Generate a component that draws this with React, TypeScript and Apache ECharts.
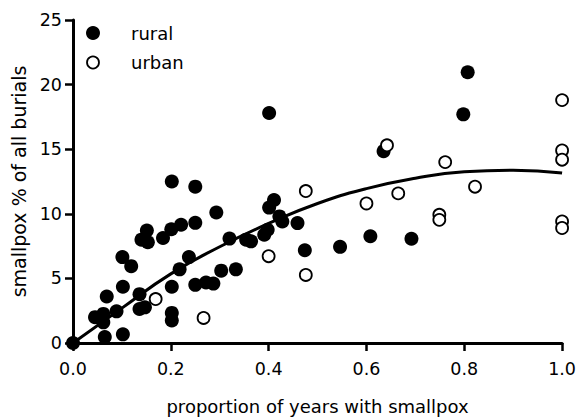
import React, { useEffect, useRef } from "react";
import * as echarts from "echarts";

const xTicks = [0, 0.2, 0.4, 0.6, 0.8, 1.0];
const yTicks = [0, 5, 10, 15, 20, 25];

const rural: [number, number][] = [
  [0, 0], [0.045, 2.0], [0.062, 2.25], [0.062, 1.6], [0.065, 0.46], [0.069, 3.6],
  [0.089, 2.45], [0.102, 4.35], [0.102, 0.67], [0.101, 6.65], [0.119, 5.95],
  [0.136, 3.78], [0.136, 2.63], [0.147, 2.76], [0.14, 8.0], [0.151, 8.7], [0.153, 7.8],
  [0.184, 8.13], [0.202, 12.5], [0.201, 8.8], [0.221, 9.15], [0.202, 4.35], [0.202, 2.33],
  [0.202, 1.74], [0.218, 5.7], [0.237, 6.65], [0.25, 12.1], [0.25, 9.3], [0.25, 4.5],
  [0.272, 4.68], [0.287, 4.6], [0.293, 10.1], [0.303, 5.6], [0.32, 8.08], [0.333, 5.7],
  [0.354, 8.0], [0.364, 7.87], [0.391, 8.38], [0.398, 8.77], [0.401, 10.48], [0.411, 11.07],
  [0.422, 9.8], [0.428, 9.4], [0.459, 9.28], [0.474, 7.18], [0.546, 7.44], [0.608, 8.26],
  [0.635, 14.85], [0.692, 8.07], [0.798, 17.7], [0.807, 20.96], [0.401, 17.8],
];

const urban: [number, number][] = [
  [0.169, 3.4], [0.267, 1.94], [0.4, 6.72], [0.476, 11.76], [0.476, 5.27], [0.6, 10.8],
  [0.642, 15.3], [0.665, 11.58], [0.749, 9.92], [0.749, 9.53], [0.761, 14.0], [0.822, 12.1],
  [1.0, 18.8], [1.0, 14.9], [1.0, 14.19], [1.0, 9.41], [1.0, 8.9],
];

const fitCurve: [number, number][] = [
  [0, 0], [0.1, 2.7], [0.2, 5.35], [0.3, 7.45], [0.4, 9.25], [0.5, 10.8],
  [0.6, 11.95], [0.7, 12.75], [0.8, 13.25], [0.9, 13.38], [1.0, 13.15],
];

const legendNames = ["rural", "urban"];

const FONT = "DejaVu Sans";

export default function App() {
  const ref = useRef<HTMLDivElement>(null);
  useEffect(() => {
    if (!ref.current) return;
    const chart = echarts.init(ref.current, undefined, { renderer: "svg" });
    chart.setOption({
      animation: false,
      backgroundColor: "#ffffff",
      grid: { left: 73, right: 15, top: 20, bottom: 74 },
      xAxis: {
        type: "value",
        min: xTicks[0],
        max: xTicks[xTicks.length - 1],
        interval: 0.2,
        name: "proportion of years with smallpox",
        nameLocation: "middle",
        nameGap: 54,
        nameTextStyle: { fontFamily: FONT, fontSize: 18, color: "#000" },
        axisLine: { show: true, lineStyle: { color: "#000", width: 3 } },
        axisTick: { show: true, length: 8, lineStyle: { color: "#000", width: 2.5 } },
        axisLabel: {
          fontFamily: FONT, fontSize: 17.5, color: "#000", margin: 17,
          formatter: (v: number) => v.toFixed(1),
        },
        splitLine: { show: false },
      },
      yAxis: {
        type: "value",
        min: yTicks[0],
        max: yTicks[yTicks.length - 1],
        interval: 5,
        name: "smallpox % of all burials",
        nameLocation: "middle",
        nameRotate: 90,
        nameGap: 45,
        nameTextStyle: { fontFamily: FONT, fontSize: 19, color: "#000" },
        axisLine: { show: true, lineStyle: { color: "#000", width: 3 } },
        axisTick: { show: true, length: 8, lineStyle: { color: "#000", width: 2.5 } },
        axisLabel: { fontFamily: FONT, fontSize: 17.5, color: "#000", margin: 11 },
        splitLine: { show: false },
      },
      series: [
        {
          name: legendNames[0],
          type: "scatter",
          data: rural,
          symbol: "circle",
          symbolSize: 14,
          clip: false,
          itemStyle: { color: "#000", opacity: 1 },
          z: 2,
        },
        {
          name: legendNames[1],
          type: "scatter",
          data: urban,
          symbol: "circle",
          symbolSize: 12,
          clip: false,
          itemStyle: { color: "#fff", borderColor: "#000", borderWidth: 1.8, opacity: 1 },
          z: 3,
        },
        {
          name: "fit",
          type: "line",
          data: fitCurve,
          smooth: true,
          showSymbol: false,
          symbol: "none",
          lineStyle: { color: "#000", width: 3 },
          z: 4,
        },
      ],
      graphic: [
        { type: "circle", shape: { cx: 93, cy: 33, r: 7 }, style: { fill: "#000" } },
        { type: "circle", shape: { cx: 93, cy: 62.5, r: 6 }, style: { fill: "#fff", stroke: "#000", lineWidth: 1.8 } },
        {
          type: "text", x: 131, y: 33,
          style: { text: legendNames[0], font: `18px "${FONT}"`, fill: "#000", verticalAlign: "middle" },
        },
        {
          type: "text", x: 131, y: 62.5,
          style: { text: legendNames[1], font: `18px "${FONT}"`, fill: "#000", verticalAlign: "middle" },
        },
      ],
    });
    return () => chart.dispose();
  }, []);
  return (
    <div
      ref={ref}
      style={{ position: "fixed", left: 0, top: 0, width: 579, height: 420 }}
    />
  );
}
